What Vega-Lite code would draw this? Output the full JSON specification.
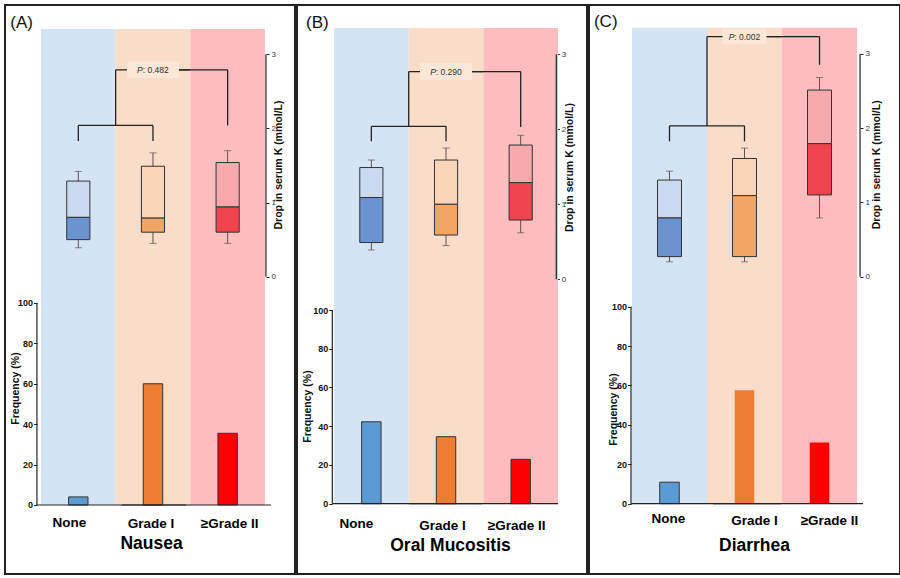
{
"$schema": "https://vega.github.io/schema/vega-lite/v6.json",
"padding": {"left": 4, "top": 4, "right": 0, "bottom": 0},
"background": "white",
"spacing": 0,
"config": {"view": {"stroke": "#222", "strokeWidth": 2}, "axis": {"grid": false}, "font": "Liberation Sans"},
"datasets": {
"bars": [
{"panel": "A", "cat": "None", "freq": 4},
{"panel": "A", "cat": "Grade I", "freq": 60},
{"panel": "A", "cat": "≥Grade II", "freq": 35.5},
{"panel": "B", "cat": "None", "freq": 42.3},
{"panel": "B", "cat": "Grade I", "freq": 34.6},
{"panel": "B", "cat": "≥Grade II", "freq": 22.9},
{"panel": "C", "cat": "None", "freq": 10.9},
{"panel": "C", "cat": "Grade I", "freq": 57.6},
{"panel": "C", "cat": "≥Grade II", "freq": 31.0}
],
"boxes": [
{"panel": "A", "cat": "None", "lo": 0.39, "q1": 0.50, "med": 0.80, "q3": 1.29, "hi": 1.42},
{"panel": "A", "cat": "Grade I", "lo": 0.45, "q1": 0.60, "med": 0.79, "q3": 1.49, "hi": 1.67},
{"panel": "A", "cat": "≥Grade II", "lo": 0.45, "q1": 0.60, "med": 0.94, "q3": 1.54, "hi": 1.70},
{"panel": "B", "cat": "None", "lo": 0.39, "q1": 0.49, "med": 1.09, "q3": 1.49, "hi": 1.59},
{"panel": "B", "cat": "Grade I", "lo": 0.45, "q1": 0.59, "med": 1.00, "q3": 1.59, "hi": 1.75},
{"panel": "B", "cat": "≥Grade II", "lo": 0.62, "q1": 0.79, "med": 1.29, "q3": 1.79, "hi": 1.92},
{"panel": "C", "cat": "None", "lo": 0.20, "q1": 0.27, "med": 0.79, "q3": 1.30, "hi": 1.42},
{"panel": "C", "cat": "Grade I", "lo": 0.20, "q1": 0.27, "med": 1.09, "q3": 1.59, "hi": 1.73},
{"panel": "C", "cat": "≥Grade II", "lo": 0.79, "q1": 1.10, "med": 1.79, "q3": 2.51, "hi": 2.68}
],
"pvals": [
{"panel": "A", "p": "0.482", "low": 1.83, "mid": 2.04, "top": 2.79, "rlow": 2.04},
{"panel": "B", "p": "0.290", "low": 1.84, "mid": 2.04, "top": 2.77, "rlow": 2.03},
{"panel": "C", "p": "0.002", "low": 1.82, "mid": 2.03, "top": 3.23, "rlow": 2.85}
]
},
"hconcat": [
{
"width": 290, "height": 569,
"resolve": {"scale": {"y": "independent", "color": "independent"}},
"layer": [
{
"data": {"name": "bars"},
"transform": [{"filter": "datum.panel === 'A'"}],
"resolve": {"scale": {"color": "independent"}},
"layer": [
{"mark": {"type": "bar", "width": {"band": 1}},
"encoding": {
"x": {"field": "cat", "type": "nominal", "scale": {"domain": ["None", "Grade I", "≥Grade II"], "paddingInner": 0, "paddingOuter": 0.442, "align": 0.545},
"axis": {"orient": "bottom", "offset": -69, "domain": false, "ticks": false, "labelAngle": 0, "labelFont": "Liberation Sans", "labelFontSize": 13.5, "labelFontWeight": "bold", "labelColor": "#000", "labelBaseline": "top",
"labelPadding": {"condition": {"test": "datum.value === 'None'", "value": 10}, "value": 11.5},
"labelOffset": {"condition": [{"test": "datum.value === 'None'", "value": -9}, {"test": "datum.value === 'Grade I'", "value": -2}], "value": 2},
"title": "Nausea", "titleFont": "Liberation Sans", "titleFontSize": 17.5, "titleFontWeight": "bold", "titleColor": "#000", "titleX": 146, "titleY": 43, "titleBaseline": "alphabetic", "titleAlign": "center"}},
"y": {"datum": 235.6, "type": "quantitative", "scale": {"domain": [-34.16, 247.5], "nice": false, "zero": false},
"axis": {"orient": "left", "offset": -32, "values": [0, 20, 40, 60, 80, 100], "domain": false, "tickSize": 3.5, "tickColor": "#222", "tickWidth": 1, "labelFont": "Liberation Sans", "labelFontSize": 9, "labelFontWeight": "bold", "labelColor": "#111", "labelPadding": 1, "title": "Frequency (%)", "titleFont": "Liberation Sans", "titleFontSize": 10.5, "titleFontWeight": "bold", "titleColor": "#111", "titleX": -22, "titleY": 383, "titleAngle": 270, "titleAlign": "center", "titleBaseline": "middle"}},
"y2": {"datum": 0},
"color": {"field": "cat", "type": "nominal", "scale": {"domain": ["None", "Grade I", "≥Grade II"], "range": ["#d5e4f4", "#f9dcc9", "#fdbdbf"]}, "legend": null}
}},
{"mark": {"type": "bar", "width": {"band": 0.26}, "stroke": "#333", "strokeWidth": 1},
"encoding": {
"x": {"field": "cat", "type": "nominal"},
"y": {"field": "freq", "type": "quantitative"},
"y2": {"datum": 0},
"color": {"field": "cat", "type": "nominal", "scale": {"domain": ["None", "Grade I", "≥Grade II"], "range": ["#5b9bd5", "#ed7d31", "#ff0000"]}, "legend": null}
}},
{"data": {"values": [{}]}, "mark": {"type": "rule", "color": "#222", "strokeWidth": 1.2},
"encoding": {"x": {"datum": "None", "type": "nominal", "bandPosition": -0.054}, "y": {"datum": 0, "type": "quantitative"}, "y2": {"datum": 100}}},
{"data": {"values": [{}]}, "mark": {"type": "rule", "color": "#222", "strokeWidth": 1.2},
"encoding": {"x": {"datum": "None", "type": "nominal", "bandPosition": -0.054}, "x2": {"datum": "≥Grade II", "bandPosition": -0.054}, "y": {"datum": 0, "type": "quantitative"}}},
{"data": {"values": [{}]}, "mark": {"type": "rule", "color": "#222", "strokeWidth": 1.2},
"encoding": {"x": {"datum": "None", "type": "nominal", "bandPosition": 1.08}, "x2": {"datum": "≥Grade II", "bandPosition": 1.08}, "y": {"datum": 0, "type": "quantitative"}}}
]
},
{
"resolve": {"scale": {"color": "independent"}},
"layer": [
{
"data": {"name": "boxes"},
"transform": [{"filter": "datum.panel === 'A'"}],
"resolve": {"scale": {"color": "independent"}},
"layer": [
{"mark": {"type": "rule", "color": "#5e5252", "strokeWidth": 1},
"encoding": {
"x": {"field": "cat", "type": "nominal", "bandPosition": 0.5},
"y": {"field": "lo", "type": "quantitative", "scale": {"domain": [-4.011, 3.665], "nice": false, "zero": false},
"axis": {"orient": "right", "offset": -29, "values": [0, 1, 2, 3], "format": "d", "domain": false, "tickSize": 3, "tickColor": "#222", "labelFont": "Liberation Sans", "labelFontSize": 8, "labelColor": "#333", "labelPadding": 2, "title": "Drop in serum K (mmol/L)", "titleFont": "Liberation Sans", "titleFontSize": 10.5, "titleFontWeight": "bold", "titleColor": "#111", "titleX": 12.5, "titleY": 159.5, "titleAngle": 270, "titleAlign": "center", "titleBaseline": "middle"}},
"y2": {"field": "hi"}
}},
{"mark": {"type": "tick", "color": "#5e5252", "size": 7, "thickness": 1},
"encoding": {"x": {"field": "cat", "type": "nominal"}, "y": {"field": "hi", "type": "quantitative"}}},
{"mark": {"type": "tick", "color": "#5e5252", "size": 7, "thickness": 1},
"encoding": {"x": {"field": "cat", "type": "nominal"}, "y": {"field": "lo", "type": "quantitative"}}},
{"mark": {"type": "bar", "width": {"band": 0.31}, "stroke": "#333", "strokeWidth": 1},
"encoding": {"x": {"field": "cat", "type": "nominal"}, "y": {"field": "q3", "type": "quantitative"}, "y2": {"field": "med"},
"color": {"field": "cat", "type": "nominal", "scale": {"domain": ["None", "Grade I", "≥Grade II"], "range": ["#c9daf0", "#f9d4b9", "#f7a9ae"]}, "legend": null}}},
{"mark": {"type": "bar", "width": {"band": 0.31}, "stroke": "#333", "strokeWidth": 1},
"encoding": {"x": {"field": "cat", "type": "nominal"}, "y": {"field": "med", "type": "quantitative"}, "y2": {"field": "q1"},
"color": {"field": "cat", "type": "nominal", "scale": {"domain": ["None", "Grade I", "≥Grade II"], "range": ["#6b93d0", "#f2a464", "#f1434d"]}, "legend": null}}}
]
},
{
"data": {"name": "pvals"},
"transform": [{"filter": "datum.panel === 'A'"}],
"layer": [
{"mark": {"type": "rule", "color": "#222", "strokeWidth": 1.3},
"encoding": {"x": {"datum": "None", "type": "nominal", "bandPosition": 0.5}, "y": {"field": "low", "type": "quantitative"}, "y2": {"field": "mid"}}},
{"mark": {"type": "rule", "color": "#222", "strokeWidth": 1.3},
"encoding": {"x": {"datum": "Grade I", "type": "nominal", "bandPosition": 0.5}, "y": {"field": "low", "type": "quantitative"}, "y2": {"field": "mid"}}},
{"mark": {"type": "rule", "color": "#222", "strokeWidth": 1.3},
"encoding": {"x": {"datum": "None", "type": "nominal", "bandPosition": 0.5}, "x2": {"datum": "Grade I", "bandPosition": 0.5}, "y": {"field": "mid", "type": "quantitative"}}},
{"mark": {"type": "rule", "color": "#222", "strokeWidth": 1.3},
"encoding": {"x": {"datum": "Grade I", "type": "nominal", "bandPosition": 0}, "y": {"field": "mid", "type": "quantitative"}, "y2": {"field": "top"}}},
{"mark": {"type": "rule", "color": "#222", "strokeWidth": 1.3},
"encoding": {"x": {"datum": "None", "type": "nominal", "bandPosition": 1}, "x2": {"datum": "Grade I", "bandPosition": 1}, "y": {"field": "top", "type": "quantitative"}}},
{"mark": {"type": "rule", "color": "#222", "strokeWidth": 1.3},
"encoding": {"x": {"datum": "Grade I", "type": "nominal", "bandPosition": 0.5}, "x2": {"datum": "≥Grade II", "bandPosition": 0.5}, "y": {"field": "top", "type": "quantitative"}}},
{"mark": {"type": "rule", "color": "#222", "strokeWidth": 1.3},
"encoding": {"x": {"datum": "≥Grade II", "type": "nominal", "bandPosition": 0.5}, "y": {"field": "rlow", "type": "quantitative"}, "y2": {"field": "top"}}},
{"mark": {"type": "point", "shape": "M-1,-0.31H1V0.31H-1Z", "filled": true, "size": 2704, "color": "#fbe6d7", "opacity": 1, "strokeWidth": 0},
"encoding": {"x": {"datum": "Grade I", "type": "nominal", "bandPosition": 0.5}, "y": {"field": "top", "type": "quantitative"}}},
{"mark": {"type": "text", "text": "P", "fontStyle": "italic", "font": "Liberation Sans", "fontSize": 8.5, "color": "#333", "align": "right", "baseline": "middle", "dx": -10.2},
"encoding": {"x": {"datum": "Grade I", "type": "nominal", "bandPosition": 0.5}, "y": {"field": "top", "type": "quantitative"}}},
{"mark": {"type": "text", "text": ":", "font": "Liberation Sans", "fontSize": 8.5, "color": "#333", "align": "left", "baseline": "middle", "dx": -10.2},
"encoding": {"x": {"datum": "Grade I", "type": "nominal", "bandPosition": 0.5}, "y": {"field": "top", "type": "quantitative"}}},
{"mark": {"type": "text", "font": "Liberation Sans", "fontSize": 8.5, "color": "#333", "align": "left", "baseline": "middle", "dx": -5.5},
"encoding": {"x": {"datum": "Grade I", "type": "nominal", "bandPosition": 0.5}, "y": {"field": "top", "type": "quantitative"}, "text": {"field": "p"}}}
]
},
{"data": {"values": [{}]}, "mark": {"type": "rule", "color": "#222", "strokeWidth": 1.2},
"encoding": {"x": {"datum": "≥Grade II", "type": "nominal", "bandPosition": 1.013}, "y": {"datum": 0, "type": "quantitative"}, "y2": {"datum": 3}}},
{"data": {"values": [{"label": "(A)"}]}, "mark": {"type": "text", "align": "left", "baseline": "alphabetic", "font": "Liberation Sans", "fontSize": 17, "color": "#111"},
"encoding": {"x": {"datum": "None", "type": "nominal", "bandPosition": -0.411}, "y": {"datum": 3.348, "type": "quantitative"}, "text": {"field": "label"}}}
]
}
]
},
{
"width": 290, "height": 569,
"resolve": {"scale": {"y": "independent", "color": "independent"}},
"layer": [
{
"data": {"name": "bars"},
"transform": [{"filter": "datum.panel === 'B'"}],
"resolve": {"scale": {"color": "independent"}},
"layer": [
{"mark": {"type": "bar", "width": {"band": 1}},
"encoding": {
"x": {"field": "cat", "type": "nominal", "scale": {"domain": ["None", "Grade I", "≥Grade II"], "paddingInner": 0, "paddingOuter": 0.442, "align": 0.561},
"axis": {"orient": "bottom", "offset": -70.3, "domain": false, "ticks": false, "labelAngle": 0, "labelFont": "Liberation Sans", "labelFontSize": 13.5, "labelFontWeight": "bold", "labelColor": "#000", "labelBaseline": "top",
"labelPadding": {"condition": {"test": "datum.value === 'None'", "value": 13}, "value": 15},
"labelOffset": {"condition": [{"test": "datum.value === 'None'", "value": -15}, {"test": "datum.value === 'Grade I'", "value": -3.5}], "value": -4},
"title": "Oral Mucositis", "titleFont": "Liberation Sans", "titleFontSize": 17.5, "titleFontWeight": "bold", "titleColor": "#000", "titleX": 153, "titleY": 47, "titleBaseline": "alphabetic", "titleAlign": "center"}},
"y": {"datum": 245.6, "type": "quantitative", "scale": {"domain": [-36.3, 257.5], "nice": false, "zero": false},
"axis": {"orient": "left", "offset": -35.3, "values": [0, 20, 40, 60, 80, 100], "domain": false, "tickSize": 3.5, "tickColor": "#222", "tickWidth": 1, "labelFont": "Liberation Sans", "labelFontSize": 9, "labelFontWeight": "bold", "labelColor": "#111", "labelPadding": 1, "title": "Frequency (%)", "titleFont": "Liberation Sans", "titleFontSize": 10.5, "titleFontWeight": "bold", "titleColor": "#111", "titleX": -25, "titleY": 401, "titleAngle": 270, "titleAlign": "center", "titleBaseline": "middle"}},
"y2": {"datum": 0},
"color": {"field": "cat", "type": "nominal", "scale": {"domain": ["None", "Grade I", "≥Grade II"], "range": ["#d5e4f4", "#f9dcc9", "#fdbdbf"]}, "legend": null}
}},
{"mark": {"type": "bar", "width": {"band": 0.26}, "stroke": "#333", "strokeWidth": 1},
"encoding": {
"x": {"field": "cat", "type": "nominal"},
"y": {"field": "freq", "type": "quantitative"},
"y2": {"datum": 0},
"color": {"field": "cat", "type": "nominal", "scale": {"domain": ["None", "Grade I", "≥Grade II"], "range": ["#5b9bd5", "#ed7d31", "#ff0000"]}, "legend": null}
}},
{"data": {"values": [{}]}, "mark": {"type": "rule", "color": "#222", "strokeWidth": 1.2},
"encoding": {"x": {"datum": "None", "type": "nominal", "bandPosition": -0.023}, "y": {"datum": 0, "type": "quantitative"}, "y2": {"datum": 100}}},
{"data": {"values": [{}]}, "mark": {"type": "rule", "color": "#222", "strokeWidth": 1.2},
"encoding": {"x": {"datum": "None", "type": "nominal", "bandPosition": -0.023}, "x2": {"datum": "≥Grade II", "bandPosition": -0.023}, "y": {"datum": 0, "type": "quantitative"}}},
{"data": {"values": [{}]}, "mark": {"type": "rule", "color": "#222", "strokeWidth": 1.2},
"encoding": {"x": {"datum": "None", "type": "nominal", "bandPosition": 1.0}, "x2": {"datum": "≥Grade II", "bandPosition": 1.0}, "y": {"datum": 0, "type": "quantitative"}}}
]
},
{
"resolve": {"scale": {"color": "independent"}},
"layer": [
{
"data": {"name": "boxes"},
"transform": [{"filter": "datum.panel === 'B'"}],
"resolve": {"scale": {"color": "independent"}},
"layer": [
{"mark": {"type": "rule", "color": "#5e5252", "strokeWidth": 1},
"encoding": {
"x": {"field": "cat", "type": "nominal", "bandPosition": 0.5},
"y": {"field": "lo", "type": "quantitative", "scale": {"domain": [-3.929, 3.657], "nice": false, "zero": false},
"axis": {"orient": "right", "offset": -30.7, "values": [0, 1, 2, 3], "format": "d", "domain": false, "tickSize": 3, "tickColor": "#222", "labelFont": "Liberation Sans", "labelFontSize": 8, "labelColor": "#333", "labelPadding": 2, "title": "Drop in serum K (mmol/L)", "titleFont": "Liberation Sans", "titleFontSize": 10.5, "titleFontWeight": "bold", "titleColor": "#111", "titleX": 13, "titleY": 162, "titleAngle": 270, "titleAlign": "center", "titleBaseline": "middle"}},
"y2": {"field": "hi"}
}},
{"mark": {"type": "tick", "color": "#5e5252", "size": 7, "thickness": 1},
"encoding": {"x": {"field": "cat", "type": "nominal"}, "y": {"field": "hi", "type": "quantitative"}}},
{"mark": {"type": "tick", "color": "#5e5252", "size": 7, "thickness": 1},
"encoding": {"x": {"field": "cat", "type": "nominal"}, "y": {"field": "lo", "type": "quantitative"}}},
{"mark": {"type": "bar", "width": {"band": 0.31}, "stroke": "#333", "strokeWidth": 1},
"encoding": {"x": {"field": "cat", "type": "nominal"}, "y": {"field": "q3", "type": "quantitative"}, "y2": {"field": "med"},
"color": {"field": "cat", "type": "nominal", "scale": {"domain": ["None", "Grade I", "≥Grade II"], "range": ["#c9daf0", "#f9d4b9", "#f7a9ae"]}, "legend": null}}},
{"mark": {"type": "bar", "width": {"band": 0.31}, "stroke": "#333", "strokeWidth": 1},
"encoding": {"x": {"field": "cat", "type": "nominal"}, "y": {"field": "med", "type": "quantitative"}, "y2": {"field": "q1"},
"color": {"field": "cat", "type": "nominal", "scale": {"domain": ["None", "Grade I", "≥Grade II"], "range": ["#6b93d0", "#f2a464", "#f1434d"]}, "legend": null}}}
]
},
{
"data": {"name": "pvals"},
"transform": [{"filter": "datum.panel === 'B'"}],
"layer": [
{"mark": {"type": "rule", "color": "#222", "strokeWidth": 1.3},
"encoding": {"x": {"datum": "None", "type": "nominal", "bandPosition": 0.5}, "y": {"field": "low", "type": "quantitative"}, "y2": {"field": "mid"}}},
{"mark": {"type": "rule", "color": "#222", "strokeWidth": 1.3},
"encoding": {"x": {"datum": "Grade I", "type": "nominal", "bandPosition": 0.5}, "y": {"field": "low", "type": "quantitative"}, "y2": {"field": "mid"}}},
{"mark": {"type": "rule", "color": "#222", "strokeWidth": 1.3},
"encoding": {"x": {"datum": "None", "type": "nominal", "bandPosition": 0.5}, "x2": {"datum": "Grade I", "bandPosition": 0.5}, "y": {"field": "mid", "type": "quantitative"}}},
{"mark": {"type": "rule", "color": "#222", "strokeWidth": 1.3},
"encoding": {"x": {"datum": "Grade I", "type": "nominal", "bandPosition": 0}, "y": {"field": "mid", "type": "quantitative"}, "y2": {"field": "top"}}},
{"mark": {"type": "rule", "color": "#222", "strokeWidth": 1.3},
"encoding": {"x": {"datum": "None", "type": "nominal", "bandPosition": 1}, "x2": {"datum": "Grade I", "bandPosition": 1}, "y": {"field": "top", "type": "quantitative"}}},
{"mark": {"type": "rule", "color": "#222", "strokeWidth": 1.3},
"encoding": {"x": {"datum": "Grade I", "type": "nominal", "bandPosition": 0.5}, "x2": {"datum": "≥Grade II", "bandPosition": 0.5}, "y": {"field": "top", "type": "quantitative"}}},
{"mark": {"type": "rule", "color": "#222", "strokeWidth": 1.3},
"encoding": {"x": {"datum": "≥Grade II", "type": "nominal", "bandPosition": 0.5}, "y": {"field": "rlow", "type": "quantitative"}, "y2": {"field": "top"}}},
{"mark": {"type": "point", "shape": "M-1,-0.33H1V0.33H-1Z", "filled": true, "size": 2704, "color": "#fbe6d7", "opacity": 1, "strokeWidth": 0},
"encoding": {"x": {"datum": "Grade I", "type": "nominal", "bandPosition": 0.5}, "y": {"field": "top", "type": "quantitative"}}},
{"mark": {"type": "text", "text": "P", "fontStyle": "italic", "font": "Liberation Sans", "fontSize": 8.5, "color": "#333", "align": "right", "baseline": "middle", "dx": -10.2},
"encoding": {"x": {"datum": "Grade I", "type": "nominal", "bandPosition": 0.5}, "y": {"field": "top", "type": "quantitative"}}},
{"mark": {"type": "text", "text": ":", "font": "Liberation Sans", "fontSize": 8.5, "color": "#333", "align": "left", "baseline": "middle", "dx": -10.2},
"encoding": {"x": {"datum": "Grade I", "type": "nominal", "bandPosition": 0.5}, "y": {"field": "top", "type": "quantitative"}}},
{"mark": {"type": "text", "font": "Liberation Sans", "fontSize": 8.5, "color": "#333", "align": "left", "baseline": "middle", "dx": -5.5},
"encoding": {"x": {"datum": "Grade I", "type": "nominal", "bandPosition": 0.5}, "y": {"field": "top", "type": "quantitative"}, "text": {"field": "p"}}}
]
},
{"data": {"values": [{}]}, "mark": {"type": "rule", "color": "#222", "strokeWidth": 1.2},
"encoding": {"x": {"datum": "≥Grade II", "type": "nominal", "bandPosition": 0.977}, "y": {"datum": 0, "type": "quantitative"}, "y2": {"datum": 3}}},
{"data": {"values": [{"label": "(B)"}]}, "mark": {"type": "text", "align": "left", "baseline": "alphabetic", "font": "Liberation Sans", "fontSize": 17, "color": "#111"},
"encoding": {"x": {"datum": "None", "type": "nominal", "bandPosition": -0.375}, "y": {"datum": 3.351, "type": "quantitative"}, "text": {"field": "label"}}}
]
}
]
},
{
"width": 311, "height": 569,
"resolve": {"scale": {"y": "independent", "color": "independent"}},
"layer": [
{
"data": {"name": "bars"},
"transform": [{"filter": "datum.panel === 'C'"}],
"resolve": {"scale": {"color": "independent"}},
"layer": [
{"mark": {"type": "bar", "width": {"band": 1}},
"encoding": {
"x": {"field": "cat", "type": "nominal", "scale": {"domain": ["None", "Grade I", "≥Grade II"], "paddingInner": 0, "paddingOuter": 0.573, "align": 0.5},
"axis": {"orient": "bottom", "offset": -70.3, "domain": false, "ticks": false, "labelAngle": 0, "labelFont": "Liberation Sans", "labelFontSize": 13.5, "labelFontWeight": "bold", "labelColor": "#000", "labelBaseline": "top",
"labelPadding": {"condition": {"test": "datum.value === 'None'", "value": 8}, "value": 10},
"labelOffset": {"condition": [{"test": "datum.value === 'None'", "value": -1}, {"test": "datum.value === 'Grade I'", "value": 10}], "value": 10},
"title": "Diarrhea", "titleFont": "Liberation Sans", "titleFontSize": 17.5, "titleFontWeight": "bold", "titleColor": "#000", "titleX": 165, "titleY": 47, "titleBaseline": "alphabetic", "titleAlign": "center"}},
"y": {"datum": 241.6, "type": "quantitative", "scale": {"domain": [-35.7, 253.1], "nice": false, "zero": false},
"axis": {"orient": "left", "offset": -42, "values": [0, 20, 40, 60, 80, 100], "domain": false, "tickSize": 3.5, "tickColor": "#222", "tickWidth": 1, "labelFont": "Liberation Sans", "labelFontSize": 9, "labelFontWeight": "bold", "labelColor": "#111", "labelPadding": 1, "title": "Frequency (%)", "titleFont": "Liberation Sans", "titleFontSize": 10.5, "titleFontWeight": "bold", "titleColor": "#111", "titleX": -18, "titleY": 404, "titleAngle": 270, "titleAlign": "center", "titleBaseline": "middle"}},
"y2": {"datum": 0},
"color": {"field": "cat", "type": "nominal", "scale": {"domain": ["None", "Grade I", "≥Grade II"], "range": ["#d5e4f4", "#f9dcc9", "#fdbdbf"]}, "legend": null}
}},
{"mark": {"type": "bar", "width": {"band": 0.26}, "strokeWidth": 1},
"encoding": {
"x": {"field": "cat", "type": "nominal"},
"y": {"field": "freq", "type": "quantitative"},
"y2": {"datum": 0},
"stroke": {"condition": {"test": "datum.cat === 'None'", "value": "#333"}, "value": "transparent"},
"color": {"field": "cat", "type": "nominal", "scale": {"domain": ["None", "Grade I", "≥Grade II"], "range": ["#5b9bd5", "#ed7d31", "#ff0000"]}, "legend": null}
}},
{"data": {"values": [{}]}, "mark": {"type": "rule", "color": "#222", "strokeWidth": 1.2},
"encoding": {"x": {"datum": "None", "type": "nominal", "bandPosition": -0.013}, "y": {"datum": 0, "type": "quantitative"}, "y2": {"datum": 100}}},
{"data": {"values": [{}]}, "mark": {"type": "rule", "color": "#222", "strokeWidth": 1.2},
"encoding": {"x": {"datum": "None", "type": "nominal", "bandPosition": -0.013}, "x2": {"datum": "≥Grade II", "bandPosition": -0.013}, "y": {"datum": 0, "type": "quantitative"}}},
{"data": {"values": [{}]}, "mark": {"type": "rule", "color": "#222", "strokeWidth": 1.2},
"encoding": {"x": {"datum": "None", "type": "nominal", "bandPosition": 1.08}, "x2": {"datum": "≥Grade II", "bandPosition": 1.08}, "y": {"datum": 0, "type": "quantitative"}}}
]
},
{
"resolve": {"scale": {"color": "independent"}},
"layer": [
{
"data": {"name": "boxes"},
"transform": [{"filter": "datum.panel === 'C'"}],
"resolve": {"scale": {"color": "independent"}},
"layer": [
{"mark": {"type": "rule", "color": "#5e5252", "strokeWidth": 1},
"encoding": {
"x": {"field": "cat", "type": "nominal", "bandPosition": 0.5},
"y": {"field": "lo", "type": "quantitative", "scale": {"domain": [-4.0, 3.655], "nice": false, "zero": false},
"axis": {"orient": "right", "offset": -40, "values": [0, 1, 2, 3], "format": "d", "domain": false, "tickSize": 3, "tickColor": "#222", "labelFont": "Liberation Sans", "labelFontSize": 8, "labelColor": "#333", "labelPadding": 2, "title": "Drop in serum K (mmol/L)", "titleFont": "Liberation Sans", "titleFontSize": 10.5, "titleFontWeight": "bold", "titleColor": "#111", "titleX": 16.5, "titleY": 159.3, "titleAngle": 270, "titleAlign": "center", "titleBaseline": "middle"}},
"y2": {"field": "hi"}
}},
{"mark": {"type": "tick", "color": "#5e5252", "size": 7, "thickness": 1},
"encoding": {"x": {"field": "cat", "type": "nominal"}, "y": {"field": "hi", "type": "quantitative"}}},
{"mark": {"type": "tick", "color": "#5e5252", "size": 7, "thickness": 1},
"encoding": {"x": {"field": "cat", "type": "nominal"}, "y": {"field": "lo", "type": "quantitative"}}},
{"mark": {"type": "bar", "width": {"band": 0.32}, "stroke": "#333", "strokeWidth": 1},
"encoding": {"x": {"field": "cat", "type": "nominal"}, "y": {"field": "q3", "type": "quantitative"}, "y2": {"field": "med"},
"color": {"field": "cat", "type": "nominal", "scale": {"domain": ["None", "Grade I", "≥Grade II"], "range": ["#c9daf0", "#f9d4b9", "#f7a9ae"]}, "legend": null}}},
{"mark": {"type": "bar", "width": {"band": 0.32}, "stroke": "#333", "strokeWidth": 1},
"encoding": {"x": {"field": "cat", "type": "nominal"}, "y": {"field": "med", "type": "quantitative"}, "y2": {"field": "q1"},
"color": {"field": "cat", "type": "nominal", "scale": {"domain": ["None", "Grade I", "≥Grade II"], "range": ["#6b93d0", "#f2a464", "#f1434d"]}, "legend": null}}}
]
},
{
"data": {"name": "pvals"},
"transform": [{"filter": "datum.panel === 'C'"}],
"layer": [
{"mark": {"type": "rule", "color": "#222", "strokeWidth": 1.3},
"encoding": {"x": {"datum": "None", "type": "nominal", "bandPosition": 0.5}, "y": {"field": "low", "type": "quantitative"}, "y2": {"field": "mid"}}},
{"mark": {"type": "rule", "color": "#222", "strokeWidth": 1.3},
"encoding": {"x": {"datum": "Grade I", "type": "nominal", "bandPosition": 0.5}, "y": {"field": "low", "type": "quantitative"}, "y2": {"field": "mid"}}},
{"mark": {"type": "rule", "color": "#222", "strokeWidth": 1.3},
"encoding": {"x": {"datum": "None", "type": "nominal", "bandPosition": 0.5}, "x2": {"datum": "Grade I", "bandPosition": 0.5}, "y": {"field": "mid", "type": "quantitative"}}},
{"mark": {"type": "rule", "color": "#222", "strokeWidth": 1.3},
"encoding": {"x": {"datum": "Grade I", "type": "nominal", "bandPosition": 0}, "y": {"field": "mid", "type": "quantitative"}, "y2": {"field": "top"}}},
{"mark": {"type": "rule", "color": "#222", "strokeWidth": 1.3},
"encoding": {"x": {"datum": "None", "type": "nominal", "bandPosition": 1}, "x2": {"datum": "Grade I", "bandPosition": 1}, "y": {"field": "top", "type": "quantitative"}}},
{"mark": {"type": "rule", "color": "#222", "strokeWidth": 1.3},
"encoding": {"x": {"datum": "Grade I", "type": "nominal", "bandPosition": 0.5}, "x2": {"datum": "≥Grade II", "bandPosition": 0.5}, "y": {"field": "top", "type": "quantitative"}}},
{"mark": {"type": "rule", "color": "#222", "strokeWidth": 1.3},
"encoding": {"x": {"datum": "≥Grade II", "type": "nominal", "bandPosition": 0.5}, "y": {"field": "rlow", "type": "quantitative"}, "y2": {"field": "top"}}},
{"mark": {"type": "point", "shape": "M-1,-0.34H1V0.34H-1Z", "filled": true, "size": 1936, "color": "#fbe6d7", "opacity": 1, "strokeWidth": 0},
"encoding": {"x": {"datum": "Grade I", "type": "nominal", "bandPosition": 0.5}, "y": {"field": "top", "type": "quantitative"}}},
{"mark": {"type": "text", "text": "P", "fontStyle": "italic", "font": "Liberation Sans", "fontSize": 8.5, "color": "#333", "align": "right", "baseline": "middle", "dx": -10.2},
"encoding": {"x": {"datum": "Grade I", "type": "nominal", "bandPosition": 0.5}, "y": {"field": "top", "type": "quantitative"}}},
{"mark": {"type": "text", "text": ":", "font": "Liberation Sans", "fontSize": 8.5, "color": "#333", "align": "left", "baseline": "middle", "dx": -10.2},
"encoding": {"x": {"datum": "Grade I", "type": "nominal", "bandPosition": 0.5}, "y": {"field": "top", "type": "quantitative"}}},
{"mark": {"type": "text", "font": "Liberation Sans", "fontSize": 8.5, "color": "#333", "align": "left", "baseline": "middle", "dx": -5.5},
"encoding": {"x": {"datum": "Grade I", "type": "nominal", "bandPosition": 0.5}, "y": {"field": "top", "type": "quantitative"}, "text": {"field": "p"}}}
]
},
{"data": {"values": [{}]}, "mark": {"type": "rule", "color": "#222", "strokeWidth": 1.2},
"encoding": {"x": {"datum": "≥Grade II", "type": "nominal", "bandPosition": 1.04}, "y": {"datum": 0, "type": "quantitative"}, "y2": {"datum": 3}}},
{"data": {"values": [{"label": "(C)"}]}, "mark": {"type": "text", "align": "left", "baseline": "alphabetic", "font": "Liberation Sans", "fontSize": 17, "color": "#111"},
"encoding": {"x": {"datum": "None", "type": "nominal", "bandPosition": -0.507}, "y": {"datum": 3.359, "type": "quantitative"}, "text": {"field": "label"}}}
]
}
]
}
]
}
